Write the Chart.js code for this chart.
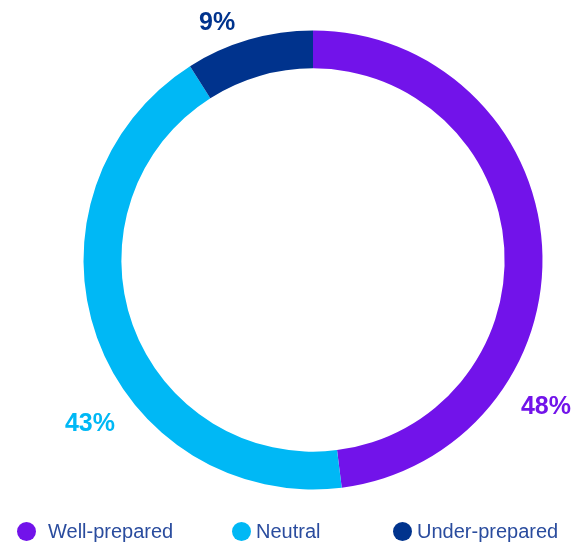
<!DOCTYPE html>
<html>
<head>
<meta charset="utf-8">
<script src="https://cdn.jsdelivr.net/npm/chart.js@4/dist/chart.umd.min.js"></script>
<style>
  html, body { margin: 0; padding: 0; background: #fff; }
  #wrap { position: relative; width: 573px; height: 543px; }
  #c { position: absolute; left: 0; top: 0; }
  #legend { position: absolute; top: 519px; left: 0; width: 573px; height: 24px;
    font-family: "Liberation Sans", Arial, sans-serif; font-size: 20px; color: #2A4C9E; }
  .item { position: absolute; top: 0; display: flex; align-items: center; height: 24px; white-space: nowrap; }
  .dot { width: 19px; height: 19px; border-radius: 50%; }
</style>
</head>
<body>
<div id="wrap">
  <canvas id="c" width="573" height="543"></canvas>
  <div id="legend"></div>
</div>
<script>
const categories = ["Well-prepared", "Neutral", "Under-prepared"];
const values = [48, 43, 9];
const valueLabels = ["48%", "43%", "9%"];
const colors = ["#7213EA", "#00B8F5", "#00338D"];

// label placement (offset from centre, in units of outer radius) — styling only
const labelOffsets = [[1.015, 0.641], [-0.972, 0.715], [-0.418, -1.033]];
const legendLeft = [17, 232, 393];
const legendGap = [12, 5, 5];

const labelPlugin = {
  id: 'pctLabels',
  afterDatasetsDraw(chart) {
    const ctx = chart.ctx;
    const meta = chart.getDatasetMeta(0);
    ctx.save();
    ctx.font = 'bold 25px "Liberation Sans", Arial, sans-serif';
    ctx.textAlign = 'center';
    ctx.textBaseline = 'middle';
    meta.data.forEach((arc, i) => {
      const r = arc.outerRadius;
      const x = arc.x + labelOffsets[i][0] * r;
      const y = arc.y + labelOffsets[i][1] * r;
      ctx.fillStyle = colors[i];
      ctx.fillText(valueLabels[i], x, y);
    });
    ctx.restore();
  }
};

new Chart(document.getElementById('c'), {
  type: 'doughnut',
  data: {
    labels: categories,
    datasets: [{
      data: values,
      backgroundColor: colors,
      borderWidth: 0,
      hoverOffset: 0
    }]
  },
  options: {
    responsive: false,
    animation: false,
    cutout: '83.5%',
    rotation: 0,
    layout: { padding: { left: 83.5, right: 30.5, top: 30.5, bottom: 53.5 } },
    plugins: {
      legend: { display: false },
      tooltip: { enabled: false }
    }
  },
  plugins: [labelPlugin]
});

const leg = document.getElementById('legend');
categories.forEach((c, i) => {
  const it = document.createElement('div');
  it.className = 'item';
  it.style.left = legendLeft[i] + 'px';
  const d = document.createElement('span');
  d.className = 'dot';
  d.style.background = colors[i];
  d.style.marginRight = legendGap[i] + 'px';
  const t = document.createElement('span');
  t.textContent = c;
  it.appendChild(d); it.appendChild(t);
  leg.appendChild(it);
});
</script>
</body>
</html>
